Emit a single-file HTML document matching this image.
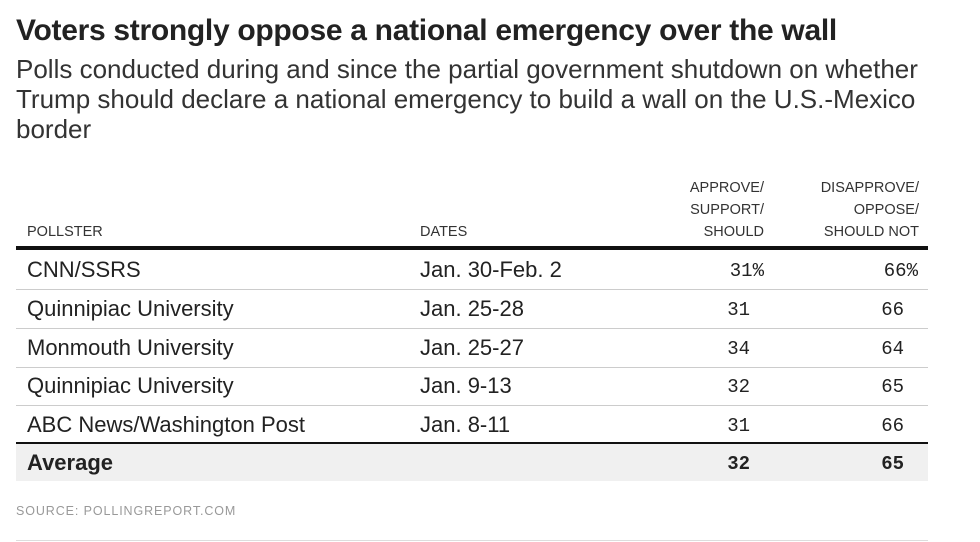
<!DOCTYPE html>
<html><head><meta charset="utf-8"><style>
body{margin:0;width:980px;height:542px;background:#fff;font-family:"Liberation Sans",sans-serif;color:#222;position:relative;overflow:hidden}
.a{position:absolute;white-space:nowrap}
h1{position:absolute;left:16px;top:14px;margin:0;font-size:30px;font-weight:bold;color:#222;letter-spacing:-0.3px}
.sub{position:absolute;left:16px;top:54px;font-size:26px;line-height:30px;color:#333;width:910px}
.hd{font-size:14.5px;color:#333;line-height:22px}
.row{position:absolute;left:16px;width:912px;height:39px;border-bottom:1px solid #ccc}
.row span{position:absolute;top:7px;font-size:22px}
.row .n{font-family:"Liberation Mono",monospace;font-size:19px;top:10px;text-align:right}
</style></head><body>
<h1>Voters strongly oppose a national emergency over the wall</h1>
<div class="sub">Polls conducted during and since the partial government shutdown on whether Trump should declare a national emergency to build a wall on the U.S.-Mexico border</div>
<div class="a hd" style="right:216px;top:177px;text-align:right">APPROVE/<br>SUPPORT/<br>SHOULD</div>
<div class="a hd" style="right:61px;top:177px;text-align:right">DISAPPROVE/<br>OPPOSE/<br>SHOULD NOT</div>
<div class="a hd" style="left:27px;top:221px">POLLSTER</div>
<div class="a hd" style="left:420px;top:221px">DATES</div>
<div class="a" style="left:16px;top:246px;width:912px;height:4px;background:#111"></div>
<div class="row" style="top:250px"><span style="left:11px">CNN/SSRS</span><span style="left:404px">Jan. 30-Feb. 2</span><span class="n" style="right:164px">31%</span><span class="n" style="right:10px">66%</span></div>
<div class="row" style="top:289px"><span style="left:11px">Quinnipiac University</span><span style="left:404px">Jan. 25-28</span><span class="n" style="right:178px">31</span><span class="n" style="right:24px">66</span></div>
<div class="row" style="top:328px"><span style="left:11px">Monmouth University</span><span style="left:404px">Jan. 25-27</span><span class="n" style="right:178px">34</span><span class="n" style="right:24px">64</span></div>
<div class="row" style="top:366px"><span style="left:11px">Quinnipiac University</span><span style="left:404px">Jan. 9-13</span><span class="n" style="right:178px">32</span><span class="n" style="right:24px">65</span></div>
<div class="row" style="top:405px;border-bottom:2px solid #111;height:37px"><span style="left:11px">ABC News/Washington Post</span><span style="left:404px">Jan. 8-11</span><span class="n" style="right:178px">31</span><span class="n" style="right:24px">66</span></div>
<div class="row" style="top:444px;background:#f0f0f0;border:none;height:37px"><span style="left:11px;top:6px;font-weight:bold">Average</span><span class="n" style="right:178px;font-weight:bold;top:9px">32</span><span class="n" style="right:24px;font-weight:bold;top:9px">65</span></div>
<div class="a" style="left:16px;top:504px;font-size:12.5px;color:#999;letter-spacing:0.9px">SOURCE: POLLINGREPORT.COM</div>
<div class="a" style="left:16px;top:540px;width:912px;height:1px;background:#ddd"></div>
</body></html>
